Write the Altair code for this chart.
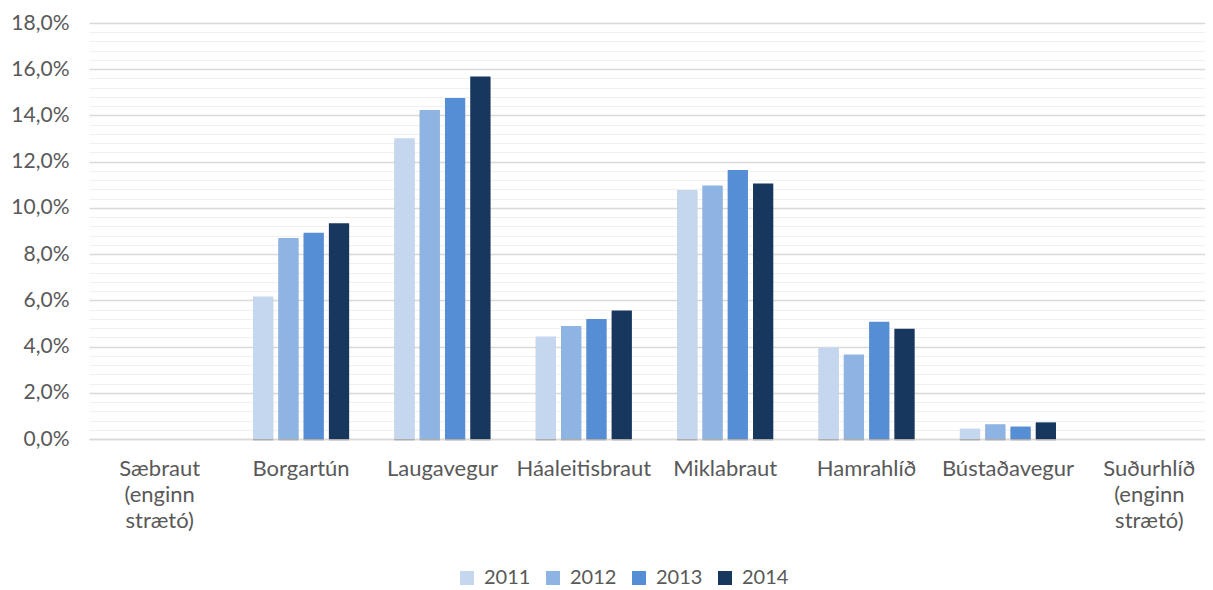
import altair as alt
import pandas as pd

categories = ["Sæbraut (enginn strætó)", "Borgartún", "Laugavegur", "Háaleitisbraut",
              "Miklabraut", "Hamrahlíð", "Bústaðavegur", "Suðurhlíð (enginn strætó)"]
years = ["2011", "2012", "2013", "2014"]
v2011 = [0.0, 6.17, 13.01, 4.44, 10.77, 3.96, 0.45, 0.0]
v2012 = [0.0, 8.70, 14.24, 4.89, 10.97, 3.66, 0.64, 0.0]
v2013 = [0.0, 8.92, 14.76, 5.19, 11.64, 5.07, 0.54, 0.0]
v2014 = [0.0, 9.34, 15.69, 5.56, 11.06, 4.77, 0.72, 0.0]
colors = ["#C5D7EF", "#8EB4E3", "#558ED5", "#17375E"]
y_ticks = [round(i * 0.4, 1) for i in range(46)]

rows = []
for yr, vals in zip(years, [v2011, v2012, v2013, v2014]):
    for c, v in zip(categories, vals):
        rows.append({"Gata": c, "Ár": yr, "Hlutfall": v})
df = pd.DataFrame(rows)

font = "Lato"
txt = "#595959"
major_test = "abs(datum.value/2 - round(datum.value/2)) < 0.001"

x_enc = alt.X("Gata:N", sort=categories,
              scale=alt.Scale(paddingInner=0.32, paddingOuter=0.16, range=[0, 1131]),
              axis=alt.Axis(title=None, labelAngle=0, labelExpr="split(datum.value, ' ')",
                            labelFontSize=22, labelColor=txt, labelFont=font, labelPadding=19,
                            labelLineHeight=26, ticks=False, domainColor="#D9D9D9",
                            domainWidth=1.5, labelBaseline="top"))
xo_enc = alt.XOffset("Ár:N", sort=years, scale=alt.Scale(paddingInner=0.2, paddingOuter=0))
y_enc = alt.Y("Hlutfall:Q", scale=alt.Scale(domain=[0, 18], nice=False),
              axis=alt.Axis(title=None, values=y_ticks, labelOverlap=False,
                            labelExpr=major_test + " ? replace(format(datum.value, '.1f'), '.', ',') + '%' : ''",
                            labelFontSize=21, labelColor=txt, labelFont=font, labelPadding=20,
                            ticks=False, domain=False,
                            gridColor={"condition": {"test": major_test, "value": "#D9D9D9"}, "value": "#F0F0F0"},
                            gridWidth={"condition": {"test": major_test, "value": 1.5}, "value": 1.2}))

base = alt.Chart(df)

shadows = [
    base.mark_bar(color="#000000", opacity=o, xOffset=dx, yOffset=dy).encode(x=x_enc, xOffset=xo_enc, y=y_enc)
    for o, dx, dy in [(0.05, -7, 2), (0.07, -5, 2), (0.09, -3, 1)]
]

bars = base.mark_bar().encode(
    x=x_enc, xOffset=xo_enc, y=y_enc,
    color=alt.Color("Ár:N", sort=years, scale=alt.Scale(domain=years, range=colors),
                    legend=alt.Legend(title=None, orient="none", legendX=368, legendY=545,
                                      direction="horizontal",
                                      symbolType="square", symbolSize=196, symbolStrokeWidth=0,
                                      labelFontSize=20, labelFont=font, labelColor=txt,
                                      columnPadding=12, labelOffset=7)),
)

chart = alt.layer(*shadows, bars).properties(
    width=1116, height=416,
    autosize=alt.AutoSizeParams(type="none"),
    padding={"top": 15, "left": 81, "right": 0, "bottom": 150}
).configure_view(stroke=None)

chart.save("out.html", embed_options={"renderer": "svg", "actions": False})
